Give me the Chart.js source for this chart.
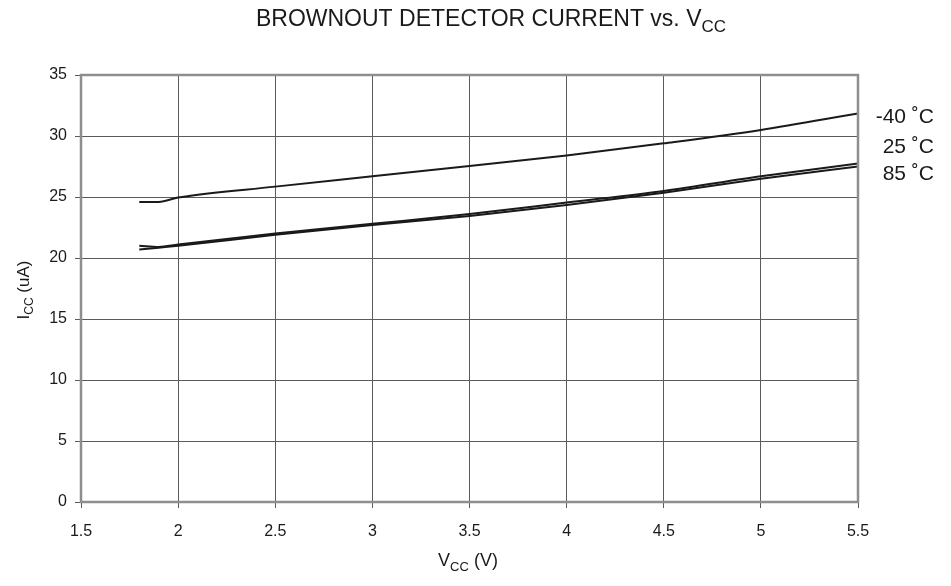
<!DOCTYPE html>
<html>
<head>
<meta charset="utf-8">
<script src="https://cdn.jsdelivr.net/npm/chart.js@4"></script>
<style>
    html, body { margin: 0; padding: 0; background: #fff; }
    #wrap { width: 951px; height: 586px; position: relative; }
</style>
</head>
<body>
<div id="wrap"><canvas id="bod-chart" width="951" height="586"></canvas></div>
<script>
// --- Data ---
const vcc = [1.8, 1.9, 2.0, 2.5, 3.0, 3.5, 4.0, 4.5, 5.0, 5.5];
const iccMinus40 = [24.6, 24.6, 24.95, 25.85, 26.7, 27.55, 28.4, 29.4, 30.5, 31.85];
const icc25 = [21.0, 20.9, 21.1, 22.0, 22.8, 23.6, 24.55, 25.5, 26.7, 27.75];
const icc85 = [20.7, 20.85, 21.0, 21.9, 22.7, 23.45, 24.35, 25.35, 26.5, 27.5];
const seriesLabels = ['-40 ˚C', '25 ˚C', '85 ˚C'];

const FONT = '"Liberation Sans", Arial, Helvetica, sans-serif';
const INK = '#1a1a1a';

function toPoints(ys) {
    return vcc.map((x, i) => ({ x: x, y: ys[i] }));
}

// draws text made of [text, isSubscript] parts
function drawParts(ctx, parts, x, y, size, align) {
    const subSize = Math.round(size * 0.72);
    let total = 0;
    const widths = parts.map(([t, sub]) => {
        ctx.font = (sub ? subSize : size) + 'px ' + FONT;
        const w = ctx.measureText(t).width;
        total += w;
        return w;
    });
    let cx = align === 'center' ? x - total / 2 : (align === 'right' ? x - total : x);
    ctx.textAlign = 'left';
    ctx.textBaseline = 'alphabetic';
    parts.forEach(([t, sub], i) => {
        ctx.font = (sub ? subSize : size) + 'px ' + FONT;
        ctx.fillText(t, cx, sub ? y + size * 0.25 : y);
        cx += widths[i];
    });
}

const annotations = {
    id: 'annotations',
    afterDatasetsDraw(chart) {
        const ctx = chart.ctx;
        const area = chart.chartArea;
        ctx.save();

        // plot frame
        ctx.strokeStyle = '#8e8e8e';
        ctx.lineWidth = 2.5;
        ctx.strokeRect(area.left, area.top, area.right - area.left, area.bottom - area.top);

        ctx.fillStyle = INK;
        // title
        drawParts(ctx, [['BROWNOUT DETECTOR CURRENT vs. V', false], ['CC', true]], 491, 26, 23, 'center');

        // x axis title
        drawParts(ctx, [['V', false], ['CC', true], [' (V)', false]], 468, 566, 18, 'center');

        // y axis title, rotated
        ctx.save();
        ctx.translate(29, 290);
        ctx.rotate(-Math.PI / 2);
        drawParts(ctx, [['I', false], ['CC', true], [' (uA)', false]], 0, 0, 17, 'center');
        ctx.restore();

        // series labels in the right margin
        const labelY = [area.top + 48, area.top + 78, area.top + 105];
        ctx.font = '21px ' + FONT;
        ctx.textAlign = 'right';
        ctx.textBaseline = 'alphabetic';
        seriesLabels.forEach((lbl, i) => ctx.fillText(lbl, 934, labelY[i]));
        ctx.restore();
    }
};

const lineStyle = {
    borderColor: INK,
    borderWidth: 2,
    pointRadius: 0,
    fill: false,
    cubicInterpolationMode: 'monotone'
};

new Chart(document.getElementById('bod-chart').getContext('2d'), {
    type: 'line',
    data: {
        datasets: [
            Object.assign({ label: seriesLabels[0], data: toPoints(iccMinus40) }, lineStyle),
            Object.assign({ label: seriesLabels[1], data: toPoints(icc25) }, lineStyle),
            Object.assign({ label: seriesLabels[2], data: toPoints(icc85) }, lineStyle)
        ]
    },
    options: {
        responsive: false,
        animation: false,
        devicePixelRatio: 1,
        layout: { padding: { left: 0, top: 75, right: 93, bottom: 0 } },
        plugins: { legend: { display: false }, title: { display: false }, tooltip: { enabled: false } },
        scales: {
            x: {
                type: 'linear', min: 1.5, max: 5.5,
                ticks: { stepSize: 0.5, color: INK, font: { family: FONT, size: 16 }, padding: 14, maxRotation: 0,
                         callback: v => String(v) },
                grid: { color: '#5a5a5a', lineWidth: 1, tickLength: 6, drawTicks: true },
                border: { display: false },
                afterFit: s => { s.height = 84; }
            },
            y: {
                min: 0, max: 35,
                ticks: { stepSize: 5, color: INK, font: { family: FONT, size: 16 }, padding: 8 },
                grid: { color: '#5a5a5a', lineWidth: 1, tickLength: 6, drawTicks: true },
                border: { display: false },
                afterFit: s => { s.width = 81; }
            }
        }
    },
    plugins: [annotations]
});
</script>
</body>
</html>
